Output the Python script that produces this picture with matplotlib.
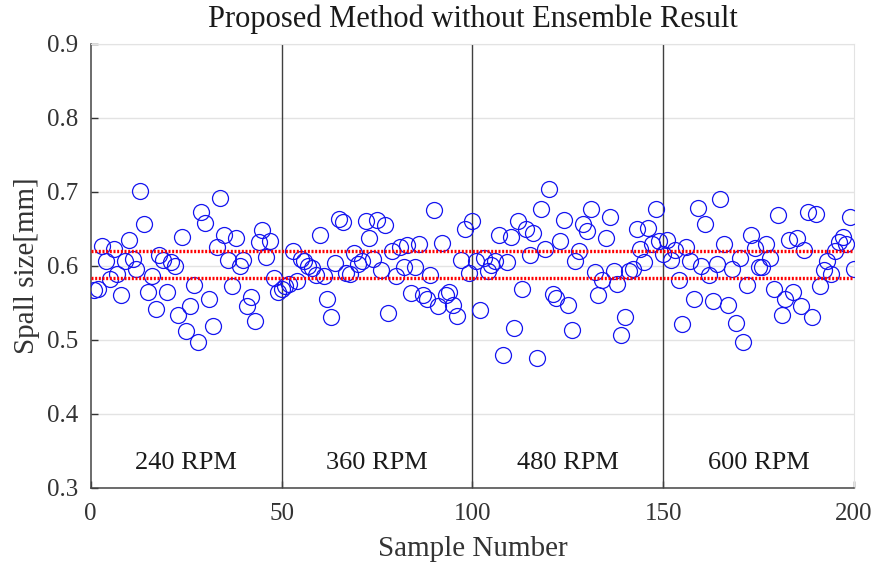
import numpy as np
import matplotlib.pyplot as plt

plt.rcParams['font.family'] = ['Liberation Serif', 'DejaVu Serif']

# spall size estimate for every test sample (1..200)
spall_240 = [0.567, 0.568, 0.627, 0.607, 0.582, 0.622, 0.589, 0.560, 0.607, 0.635,
             0.609, 0.595, 0.701, 0.657, 0.564, 0.586, 0.542, 0.614, 0.608, 0.565,
             0.605, 0.600, 0.533, 0.639, 0.512, 0.546, 0.574, 0.497, 0.673, 0.658,
             0.555, 0.519, 0.625, 0.692, 0.642, 0.608, 0.572, 0.637, 0.600, 0.608,
             0.546, 0.558, 0.526, 0.632, 0.648, 0.612, 0.633, 0.583, 0.564, 0.568]
spall_360 = [0.572, 0.575, 0.620, 0.580, 0.609, 0.607, 0.600, 0.597, 0.587, 0.641,
             0.586, 0.555, 0.531, 0.604, 0.663, 0.659, 0.590, 0.589, 0.617, 0.602,
             0.607, 0.660, 0.637, 0.609, 0.662, 0.594, 0.655, 0.536, 0.620, 0.586,
             0.625, 0.598, 0.628, 0.563, 0.598, 0.630, 0.561, 0.555, 0.587, 0.675,
             0.546, 0.631, 0.560, 0.564, 0.547, 0.532, 0.608, 0.650, 0.590, 0.661]
spall_480 = [0.607, 0.540, 0.611, 0.593, 0.601, 0.607, 0.642, 0.479, 0.605, 0.639,
             0.516, 0.660, 0.568, 0.649, 0.614, 0.644, 0.476, 0.676, 0.623, 0.704,
             0.562, 0.556, 0.633, 0.662, 0.547, 0.513, 0.607, 0.620, 0.657, 0.647,
             0.676, 0.592, 0.560, 0.581, 0.637, 0.666, 0.593, 0.576, 0.507, 0.531,
             0.593, 0.596, 0.650, 0.622, 0.605, 0.651, 0.629, 0.676, 0.634, 0.616]
spall_600 = [0.635, 0.608, 0.621, 0.581, 0.521, 0.625, 0.606, 0.555, 0.678, 0.599,
             0.656, 0.587, 0.552, 0.602, 0.690, 0.630, 0.547, 0.595, 0.523, 0.611,
             0.497, 0.574, 0.641, 0.624, 0.598, 0.598, 0.629, 0.611, 0.568, 0.669,
             0.533, 0.555, 0.635, 0.564, 0.637, 0.546, 0.621, 0.673, 0.531, 0.670,
             0.572, 0.594, 0.607, 0.589, 0.620, 0.632, 0.639, 0.630, 0.666, 0.595]

spall = np.array(spall_240 + spall_360 + spall_480 + spall_600)
sample = np.arange(1, len(spall) + 1)

upper_bound = 0.620
lower_bound = 0.584
boundaries = [50, 100, 150]
rpm_labels = ['240 RPM', '360 RPM', '480 RPM', '600 RPM']
rpm_centers = [25, 75, 125, 175]

fig = plt.figure(figsize=(8.76, 5.66), dpi=100)
ax = fig.add_axes([0.1035, 0.138, 0.8715, 0.785])

ax.plot(sample, spall, 'o', mfc='none', mec='#1414f0', ms=11.5, mew=0.9, zorder=3)

for yb in (upper_bound, lower_bound):
    ax.axhline(yb, color='red', lw=2.4, ls=(0, (0.6, 0.5)), zorder=4)

for xb in boundaries:
    ax.axvline(xb, color='#404040', lw=1.0, zorder=2)

for lab, xc in zip(rpm_labels, rpm_centers):
    ax.text(xc, 0.333, lab, ha='center', va='center', fontsize=19, color='#1a1a1a')

ax.set_xlim(0, 200)
ax.set_ylim(0.3, 0.9)
ax.set_xticks([0, 50, 100, 150, 200])
ax.set_yticks(np.arange(0.3, 0.91, 0.1))
ax.set_yticklabels(['0.3', '0.4', '0.5', '0.6', '0.7', '0.8', '0.9'])
ax.yaxis.grid(True, color='#e3e3e3', lw=1.0)
ax.set_axisbelow(True)

ax.tick_params(direction='in', length=5, width=1, labelsize=18, colors='#333333',
               top=False, right=False)
ax.tick_params(axis='x', pad=11)
ax.tick_params(axis='y', pad=9)
for side in ('left', 'bottom'):
    ax.spines[side].set_color('#444444')
    ax.spines[side].set_linewidth(1.1)
for side in ('top', 'right'):
    ax.spines[side].set_color('#e3e3e3')

ax.set_xlabel('Sample Number', fontsize=21, color='#333333', labelpad=8)
ax.set_ylabel('Spall size[mm]', fontsize=21, color='#333333', labelpad=5)
ax.set_title('Proposed Method without Ensemble Result', fontsize=22, color='#1a1a1a', pad=12)

fig.savefig('out.png', dpi=100)
